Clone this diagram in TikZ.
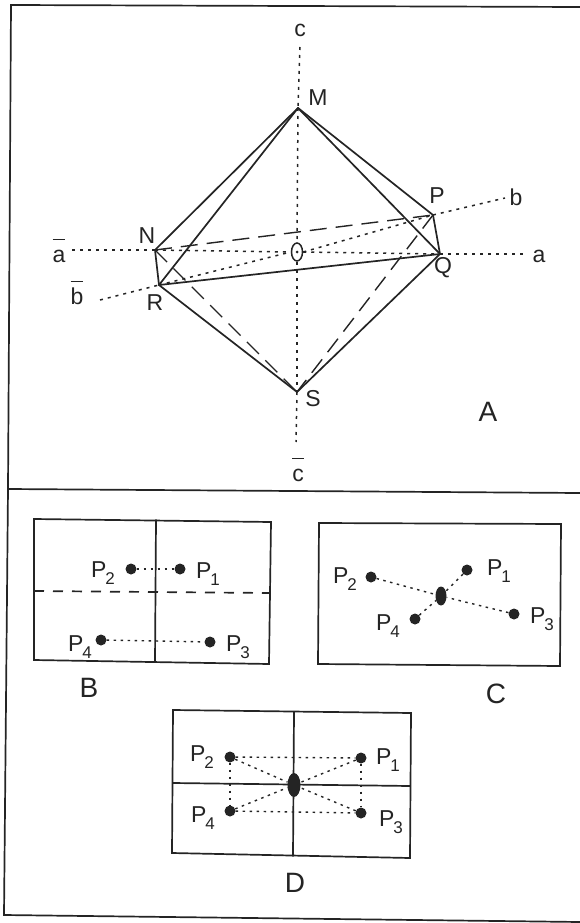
\documentclass[tikz,border=0pt]{standalone}
\usepackage{fontspec}
\setmainfont{Liberation Sans}
\definecolor{ink}{gray}{0.14}
\newcommand\Psub[1]{P\kern-0.05em\raisebox{-0.32em}{\fontsize{17}{17}\selectfont #1}}
\newcommand\barred[1]{\setbox0=\hbox{#1}\rlap{\raisebox{0.98em}{\rule{\wd0}{1.3pt}}}\box0}
\tikzset{
  frameline/.style={draw=ink,line width=1.7pt},
  edgeline/.style={draw=ink,line width=1.7pt,line cap=round},
  longdash/.style={draw=ink,line width=1.4pt,dash pattern=on 17pt off 9pt},
  axisdots/.style={draw=ink,line width=1.5pt,dash pattern=on 3pt off 5pt},
  fine/.style={draw=ink,line width=1.4pt,dash pattern=on 2.5pt off 4.5pt},
  cutline/.style={draw=ink,line width=1.7pt,dash pattern=on 10pt off 9pt},
  pdot/.style={circle,fill=ink,draw=none,minimum size=11pt,inner sep=0pt},
  centre/.style={ellipse,fill=ink,draw=none,inner sep=0pt},
  lab/.style={text=ink,font=\fontsize{23}{23}\selectfont,inner sep=0pt},
  plab/.style={text=ink,font=\fontsize{23}{23}\selectfont,inner sep=0pt},
  biglab/.style={text=ink,font=\fontsize{28}{28}\selectfont,inner sep=0pt},
}
\usetikzlibrary{shapes.geometric}
\begin{document}
\begin{tikzpicture}[x=1pt,y=-1pt]
\useasboundingbox (0,0) rectangle (580,923);
% page frame
\coordinate (f1) at (11,5); \coordinate (f2) at (580,7);
\coordinate (f3) at (8,489); \coordinate (f4) at (580,493);
\coordinate (f5) at (4,915); \coordinate (f6) at (580,922);
\draw[frameline] (f2) -- (f1) -- (f3) -- (f5) -- (f6);
\draw[frameline] (f3) -- (f4);
% panel A
\coordinate (M) at (298,108); \coordinate (N) at (155,250);
\coordinate (R) at (159,285); \coordinate (S) at (297,392);
\coordinate (Q) at (440,254); \coordinate (P) at (433,215);
\coordinate (cT) at (300,47); \coordinate (cB) at (296,442);
\coordinate (aL) at (72,250); \coordinate (aR) at (527,254);
\coordinate (bL) at (100,300); \coordinate (bR) at (505,198);
\node[draw=ink,line width=1.5pt,ellipse,minimum width=11pt,minimum height=18pt,inner sep=0pt] (O) at (297,252) {};
\node[circle,fill=ink,minimum size=3pt,inner sep=0pt] (O0) at (297,252) {};
\draw[axisdots] (cT) -- (M);
\draw[axisdots] (M) -- (O.north);
\draw[axisdots] (O.south) -- (S);
\draw[axisdots] (S) -- (cB);
\draw[axisdots] (aL) -- (N);
\draw[axisdots] (N) -- (O.west);
\draw[axisdots] (O.east) -- (Q);
\draw[axisdots] (Q) -- (aR);
\draw[axisdots] (bL) -- (R);
\draw[axisdots] (R) -- (O.west);
\draw[axisdots] (O.east) -- (P);
\draw[axisdots] (P) -- (bR);
\draw[longdash] (N) -- (P);
\draw[longdash] (N) -- (S);
\draw[longdash] (P) -- (S);
\draw[edgeline] (M) -- (N);
\draw[edgeline] (M) -- (R);
\draw[edgeline] (M) -- (P);
\draw[edgeline] (M) -- (Q);
\draw[edgeline] (N) -- (R);
\draw[edgeline] (P) -- (Q);
\draw[edgeline] (R) -- (Q);
\draw[edgeline] (R) -- (S);
\draw[edgeline] (Q) -- (S);
\node[lab] (lc) at (300,30) {c};
\node[lab] (lM) at (318,98) {M};
\node[lab] (lP) at (437,196) {P};
\node[lab] (lb) at (516,197) {b};
\node[lab] (la) at (539,256) {a};
\node[lab] (lQ) at (443,268) {Q};
\node[lab] (lN) at (147,236) {N};
\node[lab] (lab) at (59,251) {\barred{a}};
\node[lab] (lbb) at (77,293) {\barred{b}};
\node[lab] (lR) at (155,303) {R};
\node[lab] (lS) at (313,399) {S};
\node[biglab] (lA) at (488,412) {A};
\node[lab] (lcb) at (298,470) {\barred{c}};
% panel B
\coordinate (b1) at (34,519); \coordinate (b2) at (271,522);
\coordinate (b3) at (269,664); \coordinate (b4) at (34,660);
\coordinate (bv1) at (156,520); \coordinate (bv2) at (155,662);
\coordinate (bh1) at (34,591); \coordinate (bh2) at (270,593);
\draw[frameline] (b1) -- (b2) -- (b3) -- (b4) -- cycle;
\draw[edgeline] (bv1) -- (bv2);
\draw[cutline] (bh1) -- (bh2);
\node[pdot] (bP1) at (180,569) {};
\node[pdot] (bP2) at (131,569) {};
\node[pdot] (bP3) at (210,642) {};
\node[pdot] (bP4) at (101,640) {};
\draw[fine] (bP2) -- (bP1);
\draw[fine] (bP4) -- (bP3);
\node[plab] (bl1) at (208,574) {\Psub{1}};
\node[plab] (bl2) at (103,573) {\Psub{2}};
\node[plab] (bl3) at (238,647) {\Psub{3}};
\node[plab] (bl4) at (80,647) {\Psub{4}};
\node[biglab] (lB) at (89,688) {B};
% panel C
\coordinate (c1) at (319,523); \coordinate (c2) at (561,524);
\coordinate (c3) at (560,666); \coordinate (c4) at (318,664);
\draw[frameline] (c1) -- (c2) -- (c3) -- (c4) -- cycle;
\node[pdot] (cP1) at (467,570) {};
\node[pdot] (cP2) at (371,577) {};
\node[pdot] (cP3) at (514,614) {};
\node[pdot] (cP4) at (415,619) {};
\node[centre,minimum width=11pt,minimum height=19pt] (cC) at (441,596) {};
\draw[fine] (cP2) -- (cC);
\draw[fine] (cP1) -- (cC);
\draw[fine] (cP3) -- (cC);
\draw[fine] (cP4) -- (cC);
\node[plab] (cl1) at (499,571) {\Psub{1}};
\node[plab] (cl2) at (345,579) {\Psub{2}};
\node[plab] (cl3) at (542,619) {\Psub{3}};
\node[plab] (cl4) at (388,626) {\Psub{4}};
\node[biglab] (lC) at (496,694) {C};
% panel D
\coordinate (d1) at (173,710); \coordinate (d2) at (411,713);
\coordinate (d3) at (410,858); \coordinate (d4) at (172,853);
\coordinate (dv1) at (294,712); \coordinate (dv2) at (293,856);
\coordinate (dh1) at (173,783); \coordinate (dh2) at (410,786);
\draw[frameline] (d1) -- (d2) -- (d3) -- (d4) -- cycle;
\draw[edgeline] (dv1) -- (dv2);
\draw[edgeline] (dh1) -- (dh2);
\node[pdot] (dP1) at (361,758) {};
\node[pdot] (dP2) at (230,757) {};
\node[pdot] (dP3) at (361,813) {};
\node[pdot] (dP4) at (230,811) {};
\node[centre,minimum width=13pt,minimum height=24pt] (dC) at (294,785) {};
\draw[fine] (dP2) -- (dP1);
\draw[fine] (dP4) -- (dP3);
\draw[fine] (dP2) -- (dP4);
\draw[fine] (dP1) -- (dP3);
\draw[fine] (dP1) -- (dC);
\draw[fine] (dP2) -- (dC);
\draw[fine] (dP3) -- (dC);
\draw[fine] (dP4) -- (dC);
\node[plab] (dl1) at (388,760) {\Psub{1}};
\node[plab] (dl2) at (202,757) {\Psub{2}};
\node[plab] (dl3) at (391,822) {\Psub{3}};
\node[plab] (dl4) at (203,818) {\Psub{4}};
\node[biglab] (lD) at (295,883) {D};
\end{tikzpicture}
\end{document}
